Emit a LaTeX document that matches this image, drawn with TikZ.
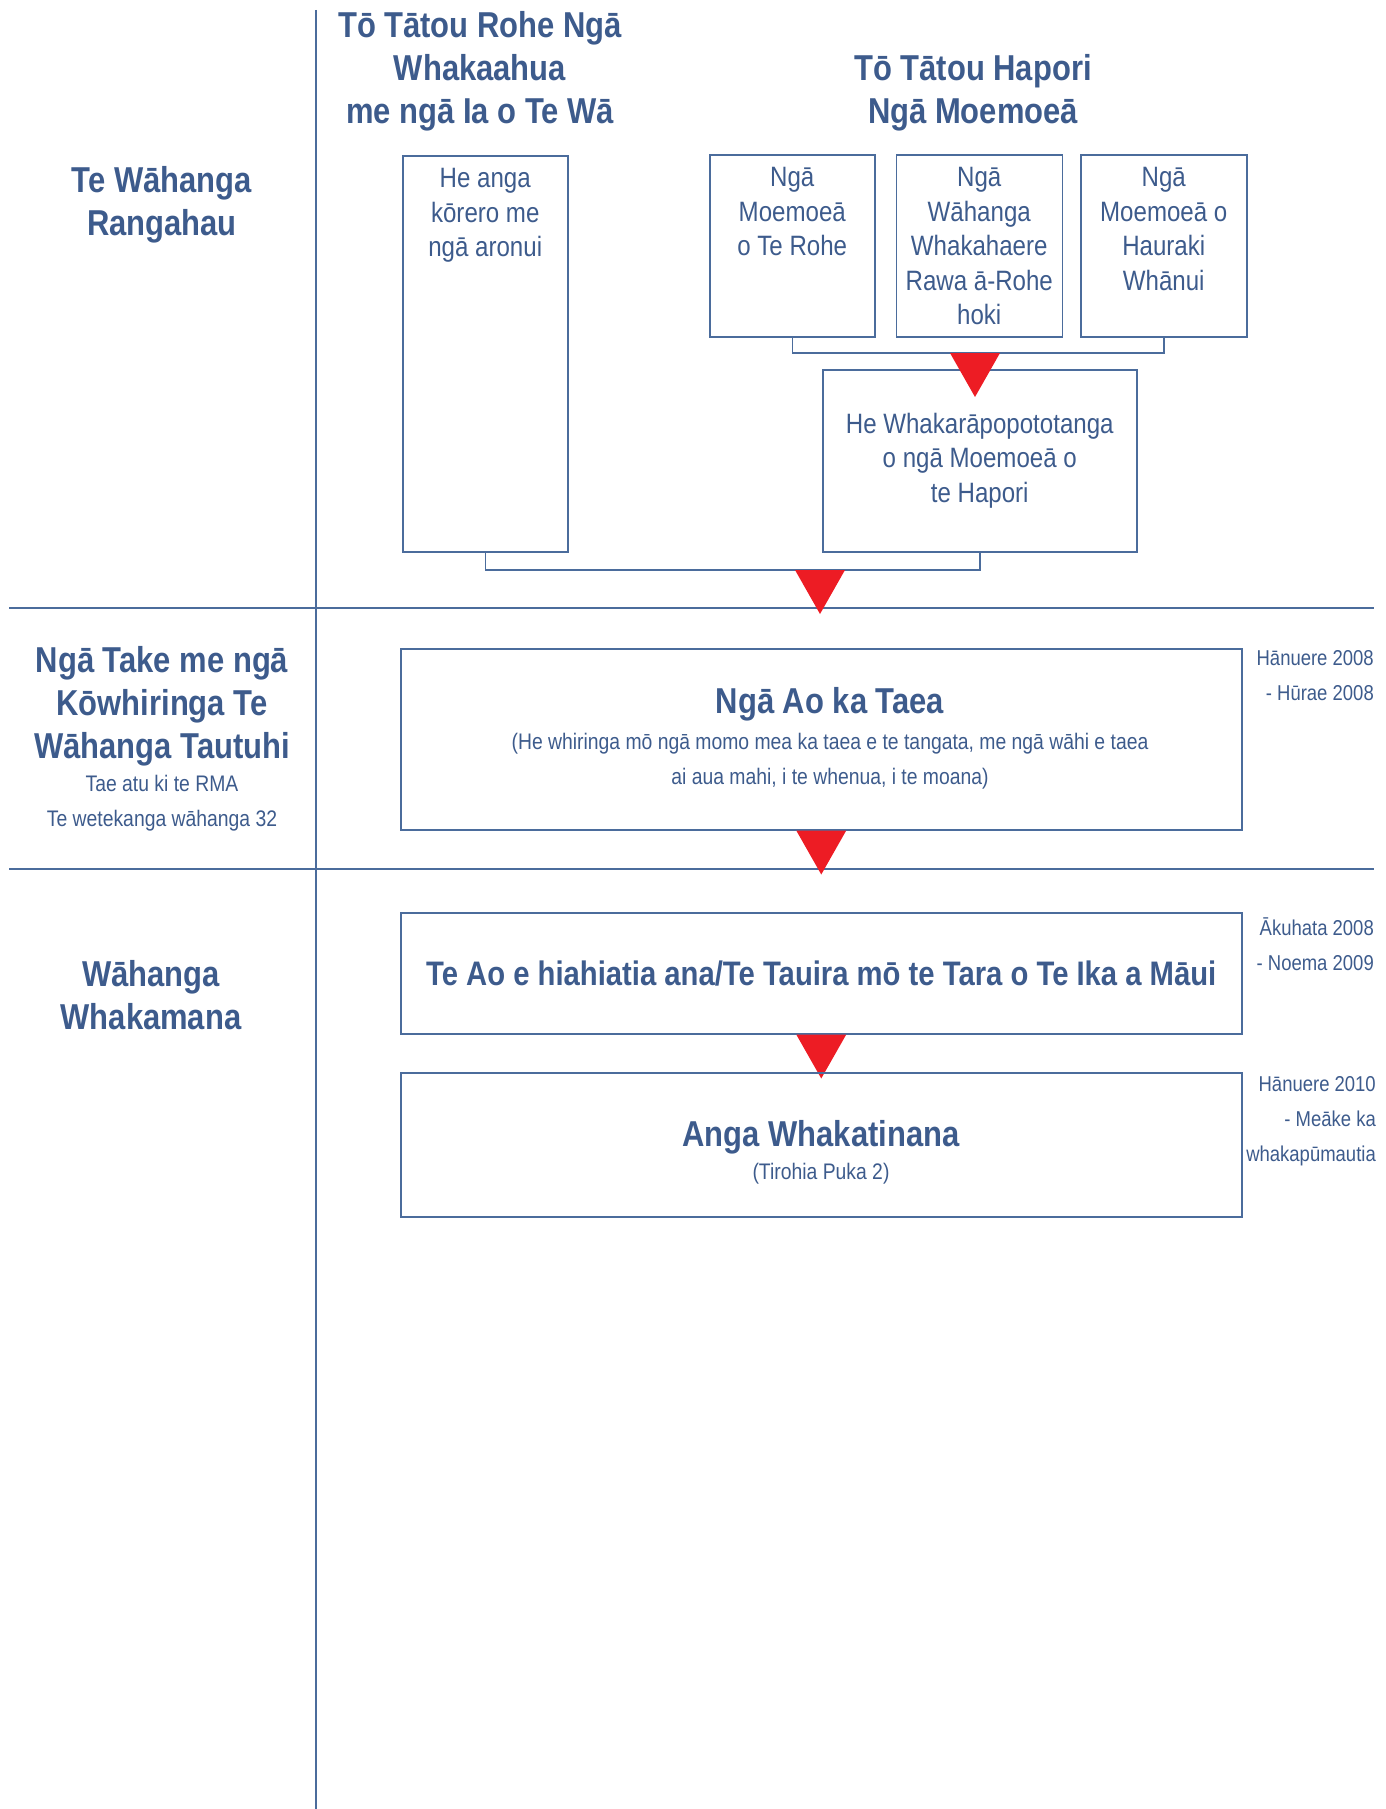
\documentclass[tikz,border=0pt]{standalone}
\usepackage{fontspec}
\setmainfont{Liberation Sans}[FakeStretch=0.86]
\usepackage{xcolor}
\usepackage{tikz}
\usetikzlibrary{positioning}

\definecolor{inkblue}{HTML}{3D5B8C}
\definecolor{ruleblue}{HTML}{4B6C9C}
\definecolor{arrowred}{HTML}{ED1C24}

% red down-pointing triangle, #1 = middle of its top edge
\newcommand{\redtri}[1]{\fill[arrowred] #1 ++(-25,0) -- ++(50,0) -- ++(-25,44) -- cycle;}

\begin{document}
\begin{tikzpicture}[x=1pt,y=-1pt]
\tikzset{box/.style={shape=rectangle, draw=ruleblue, line width=1.5pt, inner sep=0pt}}
\tikzset{link/.style={draw=ruleblue, line width=1.5pt}}
\tikzset{divider/.style={draw=ruleblue, line width=2pt}}
\tikzset{head/.style={text=inkblue, font=\bfseries\fontsize{36}{43}\selectfont, align=center, inner sep=0pt}}
\tikzset{body/.style={text=inkblue, font=\fontsize{28}{34.6}\selectfont, align=center, inner sep=0pt}}
\tikzset{small/.style={text=inkblue, font=\fontsize{22.5}{35}\selectfont, align=center, inner sep=0pt}}
\tikzset{date/.style={small, font=\fontsize{21.5}{35}\selectfont, align=right, anchor=east}}

\useasboundingbox (0,0) rectangle (1385,1809);

% grid
\draw[divider, line width=1.5pt] (316,10) -- (316,1809);
\draw[divider] (9,608) -- (1374,608);
\draw[divider] (9,869) -- (1374,869);

% column heads
\node[head] (rohehead) at (480,71) {Tō Tātou Rohe Ngā\\Whakaahua\\me ngā Ia o Te Wā};
\node[head] (haporihead) at (973,93) {Tō Tātou Hapori\\Ngā Moemoeā};

% row heads
\node[head] (rangahau) at (162,205) {Te Wāhanga\\Rangahau};
\node[head] (tautuhi) at (162,706) {Ngā Take me ngā\\Kōwhiringa Te\\Wāhanga Tautuhi};
\node[small] (rma) at (162,803) {Tae atu ki te RMA\\Te wetekanga wāhanga 32};
\node[head] (whakamana) at (151,995) {Wāhanga\\Whakamana};

% research boxes
\node[box, minimum width=165pt, minimum height=396pt, anchor=north west] (anga) at (402,155) {};
\node[body, below=13pt of anga.north] (angatext) {He anga\\kōrero me\\ngā aronui};

\node[box, minimum width=165pt, minimum height=182pt, anchor=north west] (moeRohe) at (709,154) {};
\node[box, minimum width=166pt, minimum height=182pt, right=20pt of moeRohe] (moeWhakahaere) {};
\node[box, minimum width=166pt, minimum height=182pt, right=17pt of moeWhakahaere] (moeHauraki) {};
\node[body, below=13pt of moeRohe.north] (moeRohetext) {Ngā\\Moemoeā\\o Te Rohe};
\node[body, below=13pt of moeWhakahaere.north] (moeWhakahaeretext) {Ngā\\Wāhanga\\Whakahaere\\Rawa ā-Rohe\\hoki};
\node[body, below=13pt of moeHauraki.north] (moeHaurakitext) {Ngā\\Moemoeā o\\Hauraki\\Whānui};

\node[box, body, minimum width=314pt, minimum height=182pt, anchor=north west] (summary) at (822,369) {He Whakarāpopototanga\\o ngā Moemoeā o\\te Hapori};

\coordinate (hapjoin) at (975,353);
\draw[link] (moeRohe.south) |- (hapjoin) -| (moeHauraki.south);
\redtri{(hapjoin)}

\coordinate (rohejoin) at (820,570);
\draw[link] (anga.south) |- (rohejoin) -| (summary.south);
\redtri{(rohejoin)}

% options stage
\node[box, minimum width=841pt, minimum height=181pt, anchor=north west] (aotaea) at (400,648) {};
\node[head] (aotaeatitle) at (830,704) {Ngā Ao ka Taea};
\node[small] (aotaeanote) at (830,761) {(He whiringa mō ngā momo mea ka taea e te tangata, me ngā wāhi e taea\\ai aua mahi, i te whenua, i te moana)};
\node[date] (date1) at (1374,676) {Hānuere 2008\\- Hūrae 2008};
\redtri{(aotaea.south)}

% confirmation stage
\node[box, minimum width=841pt, minimum height=121pt, anchor=north west, head, font=\bfseries\fontsize{34}{40}\selectfont] (tauira) at (400,912) {Te Ao e hiahiatia ana/Te Tauira mō te Tara o Te Ika a Māui};
\node[date] (date2) at (1374,944) {Ākuhata 2008\\- Noema 2009};
\redtri{(tauira.south)}

\node[box, minimum width=841pt, minimum height=144pt, anchor=north west] (whakatinana) at (400,1072) {};
\node[head] (whakatinanatitle) at (821,1137) {Anga Whakatinana};
\node[small] (whakatinananote) at (821,1174) {(Tirohia Puka 2)};
\node[date] (date3) at (1376,1121) {Hānuere 2010\\- Meāke ka\\whakapūmautia};
\end{tikzpicture}
\end{document}
